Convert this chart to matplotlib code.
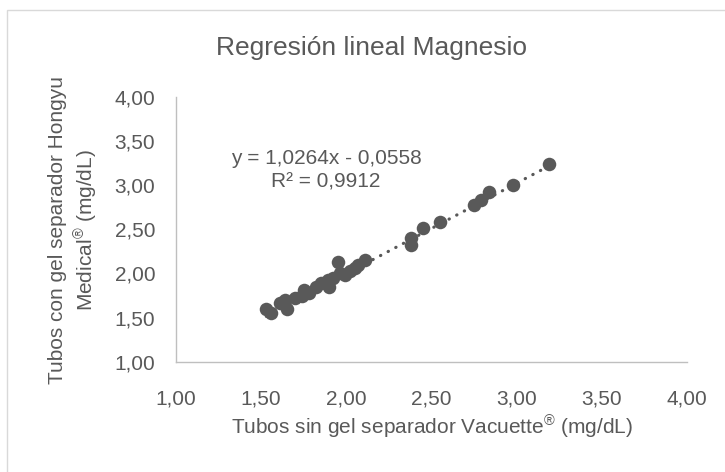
import matplotlib.pyplot as plt
import numpy as np

plt.rcParams['font.family'] = ['Liberation Sans', 'DejaVu Sans']
plt.rcParams['mathtext.fontset'] = 'custom'
plt.rcParams['mathtext.rm'] = 'Liberation Sans'
plt.rcParams['mathtext.it'] = 'Liberation Sans'

# Vacuette (sin gel) vs Hongyu (con gel), Mg mg/dL
vacuette = [1.53, 1.56, 1.61, 1.65, 1.64, 1.70, 1.74, 1.75, 1.78, 1.82, 1.85, 1.89, 1.90,
            1.92, 1.95, 1.96, 1.99, 2.02, 2.05, 2.07, 2.11,
            2.38, 2.38, 2.45, 2.55, 2.75, 2.79, 2.84, 2.98, 3.19]
hongyu = [1.60, 1.55, 1.66, 1.60, 1.70, 1.72, 1.74, 1.81, 1.78, 1.85, 1.89, 1.93, 1.85,
          1.95, 2.13, 2.00, 1.98, 2.03, 2.06, 2.10, 2.15,
          2.40, 2.32, 2.52, 2.58, 2.78, 2.83, 2.92, 3.00, 3.24]
slope = 1.0264
intercept = -0.0558
r2 = 0.9912
ticks = [1.0, 1.5, 2.0, 2.5, 3.0, 3.5, 4.0]

gray = '#595959'
fig = plt.figure(figsize=(7.25, 4.72), dpi=100)
# chart frame
fig.patches.append(plt.Rectangle((7 / 725, -0.1), 1.2, (472 - 10) / 472 + 0.1,
                                 transform=fig.transFigure, fill=False,
                                 edgecolor='#d9d9d9', linewidth=1))
ax = fig.add_axes([176 / 725, 1 - 361.7 / 472, (687 - 176) / 725, (361.7 - 97) / 472])

ax.scatter(vacuette, hongyu, s=95, color=gray, zorder=3, linewidths=0)
xs = np.array([min(vacuette), max(vacuette)])
ax.plot(xs, slope * xs + intercept, color=gray, linewidth=2.3,
        linestyle=(0, (0.1, 2.6)), dash_capstyle='round', zorder=2)

ax.set_xlim(1, 4)
ax.set_ylim(1, 4)
ax.set_xticks(ticks)
ax.set_yticks(ticks)
fmt = lambda v: f'{v:.2f}'.replace('.', ',')
ax.set_xticklabels([fmt(t) for t in ticks])
ax.set_yticklabels([fmt(t) for t in ticks])
ax.tick_params(length=0, labelsize=15, labelcolor=gray)
ax.tick_params(axis='y', pad=15)
ax.tick_params(axis='x', pad=20)
for s in ['top', 'right']:
    ax.spines[s].set_visible(False)
for s in ['left', 'bottom']:
    ax.spines[s].set_color('#bfbfbf')
    ax.spines[s].set_linewidth(1)

fig.text(371.5 / 725, 1 - 48 / 472, 'Regresión lineal Magnesio', ha='center', va='center',
         fontsize=19, color=gray)
fig.text(432 / 725, 1 - 427 / 472, 'Tubos sin gel separador Vacuette$^{®}$ (mg/dL)',
         ha='center', va='center', fontsize=15, color=gray)
fig.text(74 / 725, 1 - 230 / 472, 'Tubos con gel separador Hongyu\nMedical$^{®}$ (mg/dL)',
         ha='center', va='center', rotation=90, fontsize=15, color=gray, linespacing=1.25)

eq = f'y = {slope:.4f}x - {abs(intercept):.4f}'.replace('.', ',')
ax.text(326 / 725, 1 - 170 / 472, eq + '\n' + f'R² = {r2:.4f}'.replace('.', ','),
        transform=fig.transFigure, ha='center', va='center', fontsize=15, color=gray,
        linespacing=1.3)

fig.savefig('out.png', dpi=100)
